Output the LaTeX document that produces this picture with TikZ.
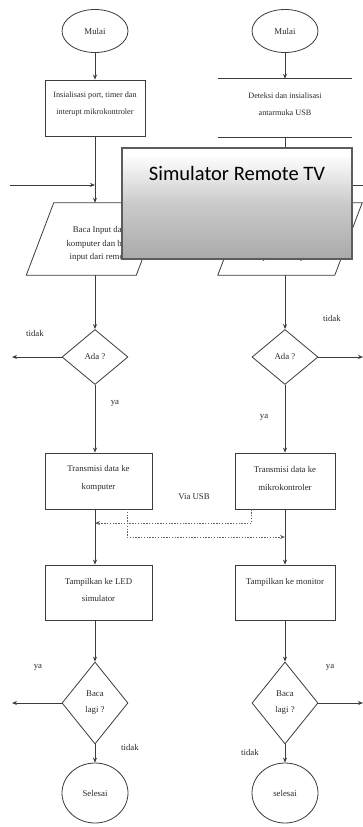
\documentclass[tikz,border=0pt]{standalone}
\usepackage{fontspec}
\setmainfont{Liberation Serif}
\newfontfamily\titlefont{Carlito}
\usetikzlibrary{shapes.geometric,arrows.meta,calc}
\definecolor{ln}{HTML}{3C3C3C}
\definecolor{tx}{HTML}{2A2A2A}
\definecolor{ovgray}{HTML}{8A8A8A}
\definecolor{ovborder}{HTML}{5C5C5C}
\pgfdeclareverticalshading{ovshade}{100bp}{color(0bp)=(ovgray); color(50bp)=(ovgray!45!white); color(72bp)=(white); color(100bp)=(white)}
\tikzset{
  every node/.style={text=tx, font=\fontsize{8.8}{11}\selectfont, inner sep=0pt},
  conn/.style={draw=ln, line width=0.8pt, -{Stealth[length=5pt,width=4pt]}},
  plain/.style={draw=ln, line width=0.8pt},
  usbline/.style={draw=ln!80, line width=0.8pt, dash pattern=on 1.4pt off 1.4pt},
  usbarrow/.style={usbline, -{Stealth[length=5pt,width=4pt]}},
  term/.style={ellipse, draw=ln, line width=0.8pt, minimum width=66pt},
  procbox/.style={rectangle, draw=ln, line width=0.8pt},
  decide/.style={diamond, draw=ln, line width=0.8pt, minimum width=66pt},
  lbl/.style={font=\fontsize{8.8}{11}\selectfont},
}
\begin{document}
\begin{tikzpicture}[x=1pt,y=-1pt]
\useasboundingbox (0,0) rectangle (363,827);
\fill[white] (0,0) rectangle (363,827);

% ---- left column ----
\node[term, minimum height=43pt] (m1) at (95,31) {Mulai};
\node[procbox, minimum width=100pt, minimum height=56pt] (b1) at (95,108) {};
\node[align=center, font=\fontsize{8.2}{17}\selectfont] (b1t) at (95,104) {Insialisasi port, timer dan\\interupt mikrokontroler};
\node[minimum width=137pt, minimum height=72pt] (p1) at (95,239) {};
\draw[plain] (p1.south west) -- ++(110,0) -- (p1.north east) -- ++(-110,0) -- cycle;
\node[align=center, font=\fontsize{8.8}{13.5}\selectfont] (p1t) at (100,244) {Baca Input dari\\komputer dan baca\\input dari remote};
\node[decide, minimum height=55pt] (d1) at (95,357) {Ada ?};
\node[procbox, minimum width=107pt, minimum height=56pt] (t1) at (98.5,481) {};
\node[align=center, font=\fontsize{8.8}{18}\selectfont] (t1t) at (98.5,478) {Transmisi data ke\\komputer};
\node[procbox, minimum width=107pt, minimum height=55pt] (s1) at (98.5,592.5) {};
\node[align=center, font=\fontsize{8.8}{17}\selectfont] (s1t) at (98.5,590) {Tampilkan ke LED\\simulator};
\node[decide, minimum height=82pt, align=center, font=\fontsize{8.8}{16}\selectfont] (e1) at (95,703) {Baca\\lagi ?};
\node[term, minimum height=60pt] (f1) at (95,793) {Selesai};

% ---- right column ----
\node[term, minimum height=43pt] (m2) at (285,31) {Mulai};
\node[minimum width=134pt, minimum height=58pt] (b2) at (285,108) {};
\draw[plain] (b2.north west) -- (b2.north east);
\draw[plain] (b2.south west) -- (b2.south east);
\node[align=center, font=\fontsize{8.2}{17}\selectfont] (b2t) at (285,104) {Deteksi dan insialisasi\\antarmuka USB};
\node[minimum width=144pt, minimum height=72pt] (p2) at (290,239) {};
\draw[plain] (p2.south west) -- ++(117,0) -- (p2.north east) -- ++(-117,0) -- cycle;
\node[align=center, font=\fontsize{8.8}{13.5}\selectfont] (p2t) at (290,244) {Baca data dari\\mikrokontroler dan baca\\input dari keyboard};
\node[decide, minimum height=55pt] (d2) at (285,357) {Ada ?};
\node[procbox, minimum width=100pt, minimum height=56pt] (t2) at (285,481) {};
\node[align=center, font=\fontsize{8.8}{18}\selectfont] (t2t) at (285,478) {Transmisi data ke\\mikrokontroler};
\node[procbox, minimum width=100pt, minimum height=55pt] (s2) at (285,592.5) {};
\node[font=\fontsize{8.8}{17}\selectfont] (s2t) at (285,582) {Tampilkan ke monitor};
\node[decide, minimum height=82pt, align=center, font=\fontsize{8.8}{16}\selectfont] (e2) at (285,703) {Baca\\lagi ?};
\node[term, minimum height=60pt] (f2) at (285,793) {selesai};

% ---- left connectors ----
\coordinate (inL) at (10,185);
\coordinate (jL) at (95,185);
\coordinate (outL1) at (12,357);
\coordinate (outL2) at (12,703);
\draw[conn] (m1) -- (b1);
\draw[plain] (b1.south) -- (jL);
\draw[conn] (jL) -- (p1.north);
\draw[conn] (inL) -- (jL);
\draw[conn] (p1.south) -- (d1.north);
\draw[conn] (d1.west) -- (outL1);
\draw[conn] (d1.south) -- (d1.south |- t1.north);
\draw[conn] (d1.south |- t1.south) -- (d1.south |- s1.north);
\draw[conn] (d1.south |- s1.south) -- (e1.north);
\draw[conn] (e1.west) -- (outL2);
\draw[conn] (e1.south) -- (f1.north);

% ---- right connectors ----
\coordinate (inR) at (363,185);
\coordinate (jR) at (285,185);
\coordinate (outR1) at (363,357);
\coordinate (outR2) at (363,703);
\draw[conn] (m2) -- (b2.north);
\draw[plain] (b2.south) -- (jR);
\draw[conn] (jR) -- (jR |- p2.north);
\draw[conn] (inR) -- (jR);
\draw[conn] (jR |- p2.south) -- (d2.north);
\draw[conn] (d2.east) -- (outR1);
\draw[conn] (d2.south) -- (t2.north);
\draw[conn] (t2.south) -- (s2.north);
\draw[conn] (s2.south) -- (e2.north);
\draw[conn] (e2.east) -- (outR2);
\draw[conn] (e2.south) -- (f2.north);

% ---- USB dotted links ----
\coordinate (u1) at ($(t2.south west)+(17,0)$);
\coordinate (u1e) at (95,523);
\coordinate (u2) at (127,509);
\coordinate (u2e) at (285,537);
\draw[usbarrow] (u1) |- (u1e);
\draw[usbarrow] (u2) |- (u2e);

% ---- labels ----
\node[lbl] (l1) at (35,333) {tidak};
\node[lbl] (l2) at (332,318) {tidak};
\node[lbl] (l3) at (115,403) {ya};
\node[lbl] (l4) at (264,417) {ya};
\node[lbl] (l5) at (194,497) {Via USB};
\node[lbl] (l6) at (38,667) {ya};
\node[lbl] (l7) at (330,667) {ya};
\node[lbl] (l8) at (130,747) {tidak};
\node[lbl] (l9) at (250,752) {tidak};

% ---- overlay title box ----
\shade[shading=ovshade] (122,148) rectangle (352,259);
\draw[draw=ovborder, line width=1.6pt] (122,148) rectangle (352,259);
\node[font=\titlefont\fontsize{20.5}{24}\selectfont, text=black] (title) at (237,173) {Simulator Remote TV};
\end{tikzpicture}
\end{document}
